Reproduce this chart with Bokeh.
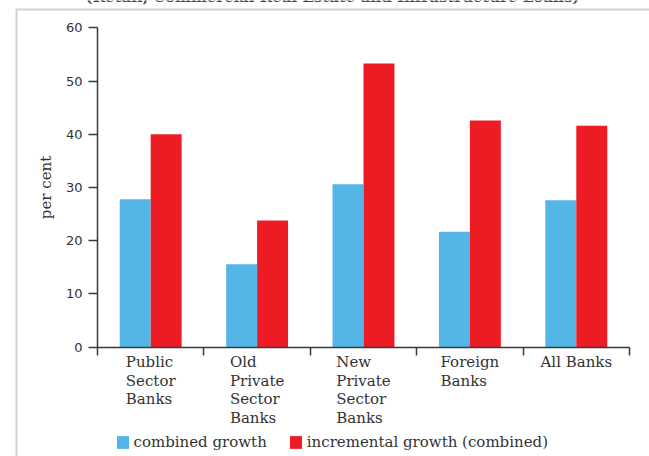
from bokeh.plotting import figure
from bokeh.models import (ColumnDataSource, Range1d, FixedTicker, Label, Legend,
                          LegendItem, BoxAnnotation)
from bokeh.transform import dodge
from bokeh.embed import file_html
from bokeh.resources import INLINE

categories = ["Public\nSector\nBanks", "Old\nPrivate\nSector\nBanks",
              "New\nPrivate\nSector\nBanks", "Foreign\nBanks", "All Banks"]
combined_growth = [27.8, 15.6, 30.6, 21.7, 27.6]
incremental_growth = [40.0, 23.8, 53.3, 42.6, 41.6]
y_ticks = [0, 10, 20, 30, 40, 50, 60]
series_names = ["combined growth", "incremental growth (combined)"]
title_text = "(Retail, Commercial Real Estate and Infrastructure Loans)"

BLUE = "#53B6E7"
RED = "#ED1C24"
SERIF = "DejaVu Serif"
SANS = "DejaVu Sans"
AXIS = "#3a3a3a"

W, H = 649, 456
# plot-area placement on the canvas (pixels)
FL, FR, FT, FB = 97.0, 629.0, 27.3, 346.7
n = len(categories)
ppx = (FR - FL) / n
ppy = (FB - FT) / 60.0
x0 = -FL / ppx
x1 = n + (W - FR) / ppx
y0 = -(H - FB) / ppy
y1 = 60 + FT / ppy


def px_x(px):
    return x0 + px / ppx


def px_y(py):
    return y1 - py / ppy


pos = [i + 0.5 for i in range(n)]
src = ColumnDataSource(dict(x=pos, c=combined_growth, inc=incremental_growth))

p = figure(width=W, height=H, output_backend="svg", toolbar_location=None,
           x_range=Range1d(x0, x1), y_range=Range1d(y0, y1),
           min_border=0)
p.outline_line_color = None
p.xgrid.visible = False
p.ygrid.visible = False
p.background_fill_color = "white"
p.border_fill_color = "white"

bw = 0.291
r1 = p.vbar(x=dodge("x", -bw / 2), top="c", width=bw, source=src,
            fill_color=BLUE, line_color=None)
r2 = p.vbar(x=dodge("x", bw / 2), top="inc", width=bw, source=src,
            fill_color=RED, line_color=None)

# y axis
ya = p.yaxis[0]
ya.fixed_location = 0
ya.bounds = (0, 60)
ya.ticker = FixedTicker(ticks=y_ticks)
ya.minor_tick_line_color = None
ya.major_tick_in = 0
ya.major_tick_out = 9
ya.major_label_standoff = 6
ya.major_label_text_font = SANS
ya.major_label_text_font_size = "13px"
ya.major_label_text_color = "#333333"
ya.axis_line_color = AXIS
ya.axis_line_width = 1.5
ya.major_tick_line_color = AXIS
ya.major_tick_line_width = 1.5
ya.axis_label = "per cent"
ya.axis_label_text_font = SERIF
ya.axis_label_text_font_size = "15px"
ya.axis_label_text_font_style = "normal"
ya.axis_label_text_color = "#333333"
ya.axis_label_standoff = 8

# x axis (category boundaries)
xa = p.xaxis[0]
xa.fixed_location = 0
xa.bounds = (0, n)
xa.ticker = FixedTicker(ticks=list(range(n + 1)))
xa.minor_tick_line_color = None
xa.major_tick_in = 0
xa.major_tick_out = 8
xa.major_label_text_alpha = 0
xa.major_label_text_font_size = "8px"
xa.axis_line_color = AXIS
xa.axis_line_width = 1.5
xa.major_tick_line_color = AXIS
xa.major_tick_line_width = 1.5

# category labels
for xp, cat in zip(pos, categories):
    p.add_layout(Label(x=xp, y=0, y_offset=-6, text=cat, anchor="top_center",
                       text_align="left", text_font=SERIF, text_font_size="15px",
                       text_color="#333333", text_line_height=1.03))

# legend
legend = Legend(items=[LegendItem(label=series_names[0], renderers=[r1]),
                       LegendItem(label=series_names[1], renderers=[r2])],
                orientation="horizontal", location=(114.5, 5),
                border_line_color=None, background_fill_alpha=0,
                padding=0, margin=0, spacing=21, glyph_width=15, glyph_height=16,
                label_standoff=4, label_text_font=SERIF, label_text_font_size="15px",
                label_text_color="#333333", label_height=16)
p.add_layout(legend, "center")

# document frame lines and clipped heading
p.add_layout(BoxAnnotation(left=px_x(16), right=px_x(720), top=px_y(9), bottom=px_y(520),
                           fill_color=None, line_color="#666666", line_width=2))
p.add_layout(Label(x=px_x(332), y=px_y(5), text=title_text, anchor="bottom_center",
                   text_font=SERIF, text_font_size="15px", text_font_style="bold",
                   text_color="#444444"))

open("out.html", "w").write(file_html(p, INLINE))
